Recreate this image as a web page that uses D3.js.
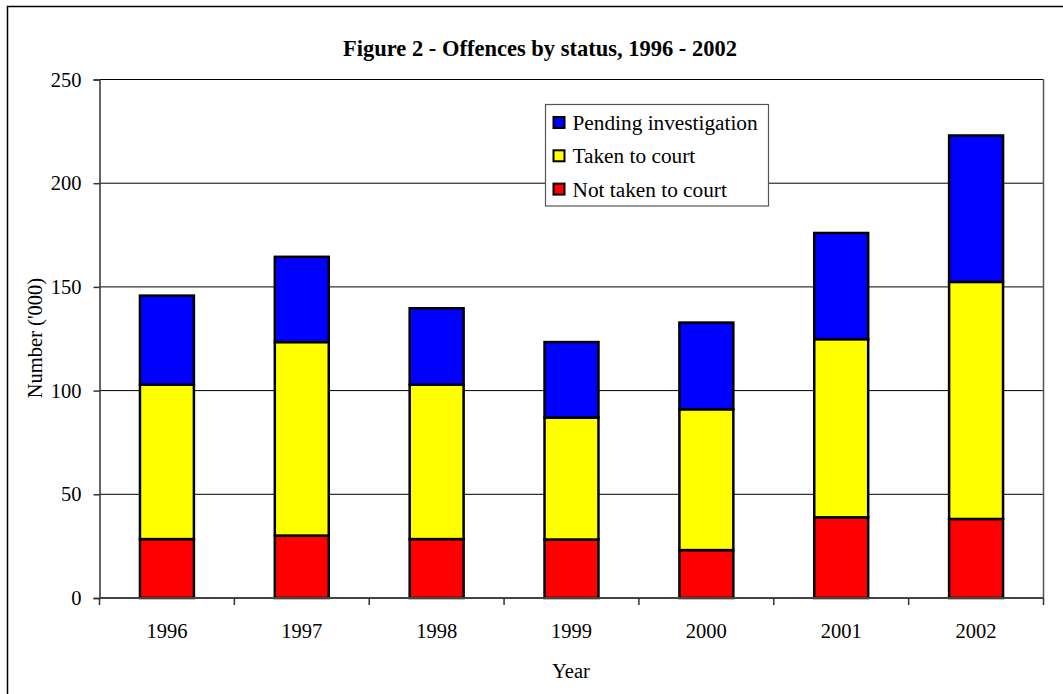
<!DOCTYPE html>
<html>
<head>
<meta charset="utf-8">
<script src="https://cdn.jsdelivr.net/npm/d3@7"></script>
<style>
html,body{margin:0;padding:0;background:#fff;}
svg{display:block;}
svg text{font-family:"Liberation Serif",serif;}
</style>
</head>
<body>
<svg id="chart" width="1063" height="694"></svg>
<script>
const years = ["1996","1997","1998","1999","2000","2001","2002"];
const notTaken = [28.4, 30.1, 28.4, 28.2, 23.1, 38.9, 38.1];
const takenToCourt = [74.5, 93.3, 74.5, 58.8, 67.9, 85.9, 114.3];
const pending = [42.9, 41.1, 36.8, 36.4, 41.8, 51.2, 70.6];
const yTicks = [0, 50, 100, 150, 200, 250];
const seriesNames = ["Not taken to court", "Taken to court", "Pending investigation"];
const seriesColors = ["#ff0000", "#ffff00", "#0000ff"];

const FF = "Liberation Serif";
const svg = d3.select("#chart");
const L = 99.5, R = 1043.5, T = 79.5, B = 598;

// outer border
svg.append("rect").attr("x",7.5).attr("y",6.5).attr("width",1080).attr("height",720)
  .attr("fill","none").attr("stroke","#000").attr("stroke-width",1.5);

const x = d3.scaleBand().domain(years).range([L, R]).padding(0);
const y = d3.scaleLinear().domain([0, 250]).range([B, T]);

// gridlines
svg.append("g").selectAll("line").data(yTicks.filter(d => d > 0)).join("line")
  .attr("x1", L).attr("x2", R).attr("y1", d => y(d)).attr("y2", d => y(d))
  .attr("stroke", "#000").attr("stroke-width", 1);

// right border of plot
svg.append("line").attr("x1",R).attr("x2",R).attr("y1",T).attr("y2",B)
  .attr("stroke","#555").attr("stroke-width",1.5);

// stacked bars
const table = years.map((yr, i) => ({year: yr, s0: notTaken[i], s1: takenToCourt[i], s2: pending[i]}));
const stack = d3.stack().keys(["s0","s1","s2"])(table);
const bw = x.bandwidth() * 0.4;
stack.forEach((layer, li) => {
  svg.append("g").selectAll("rect").data(layer).join("rect")
    .attr("x", d => x(d.data.year) + (x.bandwidth() - bw) / 2)
    .attr("width", bw)
    .attr("y", d => y(d[1]))
    .attr("height", d => y(d[0]) - y(d[1]))
    .attr("fill", seriesColors[li])
    .attr("stroke", "#000").attr("stroke-width", 2.5);
});

// y axis
const yAxis = d3.axisLeft(y).tickValues(yTicks).tickSize(6).tickPadding(12).tickFormat(d3.format("d"));
const gy = svg.append("g").attr("transform", `translate(${L},0)`).call(yAxis);
gy.attr("font-family", FF).attr("font-size", 20.5);
gy.select(".domain").attr("stroke", "#333").attr("stroke-width", 1.5);
gy.selectAll(".tick line").attr("stroke", "#333").attr("stroke-width", 1.5);
gy.selectAll("text").attr("font-size", 20.5).attr("font-family", FF).attr("fill", "#000");

// x axis
const boundaries = years.map(d => x(d)).concat([R]);
svg.append("line").attr("x1", L).attr("x2", R).attr("y1", B).attr("y2", B)
  .attr("stroke", "#444").attr("stroke-width", 2);
svg.append("g").selectAll("line").data(boundaries).join("line")
  .attr("x1", d => d).attr("x2", d => d).attr("y1", B).attr("y2", B + 7)
  .attr("stroke", "#333").attr("stroke-width", 1.5);
svg.append("g").selectAll("text").data(years).join("text")
  .attr("x", d => x(d) + x.bandwidth() / 2).attr("y", 637.5)
  .attr("text-anchor", "middle").attr("font-family", FF).attr("font-size", 20.5).text(d => d);

// titles
svg.append("text").attr("x", 540).attr("y", 56).attr("text-anchor", "middle")
  .attr("font-family", FF).attr("font-size", 22.5).attr("font-weight", "bold")
  .text("Figure 2 - Offences by status, 1996 - 2002");
svg.append("text").attr("x", 571).attr("y", 678).attr("text-anchor", "middle")
  .attr("font-family", FF).attr("font-size", 20.5).text("Year");
svg.append("text").attr("transform", "translate(42,338) rotate(-90)").attr("text-anchor", "middle")
  .attr("font-family", FF).attr("font-size", 20.5).text("Number ('000)");

// legend
const lg = svg.append("g");
lg.append("rect").attr("x", 545.5).attr("y", 104.5).attr("width", 223).attr("height", 101.5)
  .attr("fill", "#fff").attr("stroke", "#555").attr("stroke-width", 1.2);
const legendOrder = [2, 1, 0];
legendOrder.forEach((si, k) => {
  const by = 130 + k * 33.3;
  lg.append("rect").attr("x", 553.5).attr("y", by - 13).attr("width", 11).attr("height", 11)
    .attr("fill", seriesColors[si]).attr("stroke", "#000").attr("stroke-width", 2);
  lg.append("text").attr("x", 572.5).attr("y", by).attr("font-family", FF).attr("font-size", 21.3)
    .text(seriesNames[si]);
});
</script>
</body>
</html>
